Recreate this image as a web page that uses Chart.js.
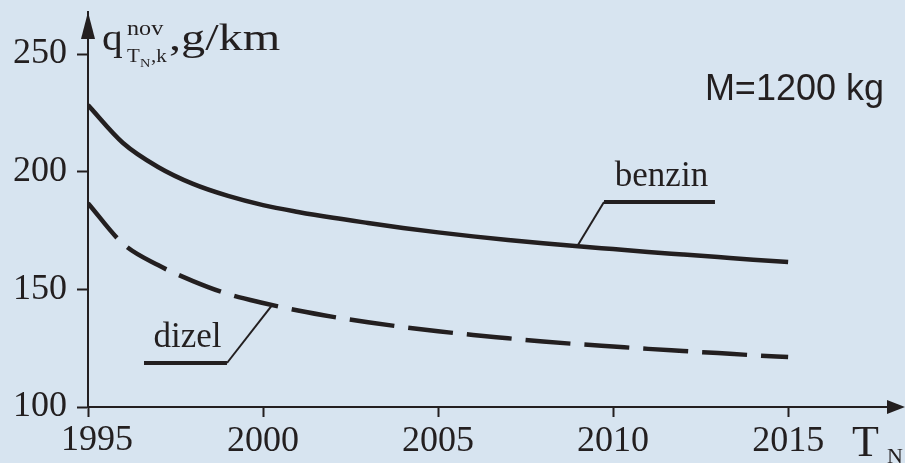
<!DOCTYPE html>
<html>
<head>
<meta charset="utf-8">
<script src="https://cdn.jsdelivr.net/npm/chart.js@4.4.1/dist/chart.umd.min.js"></script>
<style>
  html, body { margin: 0; padding: 0; background: #d7e4f0; }
  canvas { display: block; }
</style>
</head>
<body>
<canvas id="canvas" width="905" height="463"></canvas>
<script>
// data
var years = [1995, 1996, 1997, 1998, 1999, 2000, 2001, 2002, 2003, 2004, 2005,
    2006, 2007, 2008, 2009, 2010, 2011, 2012, 2013, 2014, 2015];
var benzin = [228.3, 212.2, 202.0, 194.8, 189.7, 185.8, 182.9, 180.4, 178.2, 176.1, 174.2,
    172.5, 171.0, 169.6, 168.3, 167.1, 165.9, 164.8, 163.7, 162.6, 161.6];
var dizel = [186.6, 169.4, 160.3, 153.5, 148.0, 144.2, 141.0, 138.3, 136.0, 134.0, 132.2,
    130.6, 129.2, 127.8, 126.7, 125.7, 124.7, 123.8, 122.9, 122.0, 121.2];
var xTicks = [1995, 2000, 2005, 2010, 2015];
var yTicks = [100, 150, 200, 250];
var massLabel = "M=1200 kg";

const ink = "#231f20";
const bg = "#d7e4f0";
const serif = "'Liberation Serif', 'Times New Roman', serif";

function toPoints(vals) {
    return years.map((y, i) => ({ x: y, y: vals[i] }));
}

// labels with leader lines, in data units
const notes = [
    { text: "benzin", tip: [2008.97, 168.2], elbow: [2009.74, 187.1], end: [2012.91, 187.1] },
    { text: "dizel", tip: [2000.26, 143.3], elbow: [1998.97, 118.7], end: [1996.6, 118.7] }
];

const decor = {
    id: "decor",
    beforeDraw(chart) {
        const ctx = chart.ctx;
        ctx.save();
        ctx.fillStyle = bg;
        ctx.fillRect(0, 0, chart.width, chart.height);
        ctx.restore();
    },
    afterDraw(chart) {
        const ctx = chart.ctx;
        const a = chart.chartArea;
        const xs = chart.scales.x, ys = chart.scales.y;
        ctx.save();
        ctx.fillStyle = ink;
        ctx.strokeStyle = ink;

        // arrow heads
        ctx.beginPath();
        ctx.moveTo(a.left, a.top);
        ctx.lineTo(a.left - 7, a.top + 27);
        ctx.lineTo(a.left + 7, a.top + 27);
        ctx.closePath();
        ctx.fill();
        ctx.beginPath();
        ctx.moveTo(chart.width, a.bottom);
        ctx.lineTo(chart.width - 18, a.bottom - 7);
        ctx.lineTo(chart.width - 18, a.bottom + 7);
        ctx.closePath();
        ctx.fill();

        // first x label sits a little right of its tick
        ctx.font = "36px " + serif;
        ctx.textAlign = "center";
        ctx.textBaseline = "middle";
        ctx.fillText(String(xTicks[0]), xs.getPixelForValue(xTicks[0]) + 9, a.bottom + 34);

        // axis title q^nov_{TN,k}, g/km (drawn a bit wide, like the original)
        ctx.textBaseline = "alphabetic";
        ctx.textAlign = "left";
        const wide = (txt, x, y, sx) => {
            ctx.save();
            ctx.translate(x, y);
            ctx.scale(sx, 1);
            ctx.fillText(txt, 0, 0);
            ctx.restore();
        };
        const x0 = a.left + 14;
        ctx.font = "37px " + serif;
        wide("q", x0, 50, 1.12);
        ctx.font = "21px " + serif;
        wide("nov", x0 + 25, 35, 1.15);
        ctx.font = "19px " + serif;
        wide("T", x0 + 25, 62, 1.1);
        ctx.font = "13px " + serif;
        wide("N", x0 + 38, 67, 1.1);
        ctx.font = "19px " + serif;
        wide(",k", x0 + 49, 62, 1.1);
        ctx.font = "38px " + serif;
        wide(",g/km", x0 + 67, 50, 1.27);

        // T_N at the x axis end
        ctx.font = "44px " + serif;
        ctx.fillText("T", 852, 456);
        ctx.font = "22px " + serif;
        ctx.fillText("N", 887, 463);

        // mass
        ctx.font = "36px 'Liberation Sans', Arial, sans-serif";
        ctx.textAlign = "right";
        ctx.fillText(massLabel, 884, 100);

        // curve labels
        notes.forEach(n => {
            const tip = [xs.getPixelForValue(n.tip[0]), ys.getPixelForValue(n.tip[1])];
            const elbow = [xs.getPixelForValue(n.elbow[0]), ys.getPixelForValue(n.elbow[1])];
            const end = [xs.getPixelForValue(n.end[0]), ys.getPixelForValue(n.end[1])];
            ctx.lineWidth = 2;
            ctx.beginPath();
            ctx.moveTo(tip[0], tip[1]);
            ctx.lineTo(elbow[0], elbow[1]);
            ctx.stroke();
            ctx.lineWidth = 4;
            ctx.beginPath();
            ctx.moveTo(elbow[0], elbow[1]);
            ctx.lineTo(end[0], end[1]);
            ctx.stroke();
            ctx.font = "35px " + serif;
            ctx.textAlign = "center";
            ctx.fillText(n.text, (elbow[0] + end[0]) / 2 + 2, elbow[1] - 16);
        });
        ctx.restore();
    }
};

const data = {
    datasets: [
        {
            label: "benzin",
            data: toPoints(benzin),
            borderColor: ink,
            borderWidth: 4.5,
            pointRadius: 0,
            cubicInterpolationMode: "monotone",
            fill: false
        },
        {
            label: "dizel",
            data: toPoints(dizel),
            borderColor: ink,
            borderWidth: 4.5,
            borderDash: [45, 14],
            pointRadius: 0,
            cubicInterpolationMode: "monotone",
            fill: false
        }
    ]
};

const options = {
    responsive: false,
    animation: false,
    layout: { padding: { top: 12, right: 15, left: 0, bottom: 0 } },
    plugins: { legend: { display: false }, tooltip: { enabled: false } },
    scales: {
        x: {
            type: "linear",
            min: 1995,
            max: 2017.91,
            afterBuildTicks: s => { s.ticks = xTicks.map(v => ({ value: v })); },
            afterFit: s => { s.height = 56; s.paddingLeft = 0; s.paddingRight = 0; },
            grid: { drawOnChartArea: false, tickLength: 10, tickWidth: 2, tickColor: ink },
            border: { display: true, color: ink, width: 2 },
            ticks: {
                color: ink,
                font: { family: serif, size: 36 },
                padding: 3,
                maxRotation: 0,
                callback: v => (v == xTicks[0] ? "" : String(v))
            }
        },
        y: {
            min: 100,
            max: 267.85,
            afterBuildTicks: s => { s.ticks = yTicks.map(v => ({ value: v })); },
            afterFit: s => { s.width = 88; s.paddingTop = 0; s.paddingBottom = 0; },
            grid: { drawOnChartArea: false, tickLength: 11, tickWidth: 2, tickColor: ink },
            border: { display: true, color: ink, width: 2 },
            ticks: {
                color: ink,
                font: { family: serif, size: 36 },
                padding: 10,
                callback: v => String(v)
            }
        }
    }
};

const chart = new Chart(document.getElementById("canvas"), {
    type: "line",
    data: data,
    options: options,
    plugins: [decor]
});
</script>
</body>
</html>
